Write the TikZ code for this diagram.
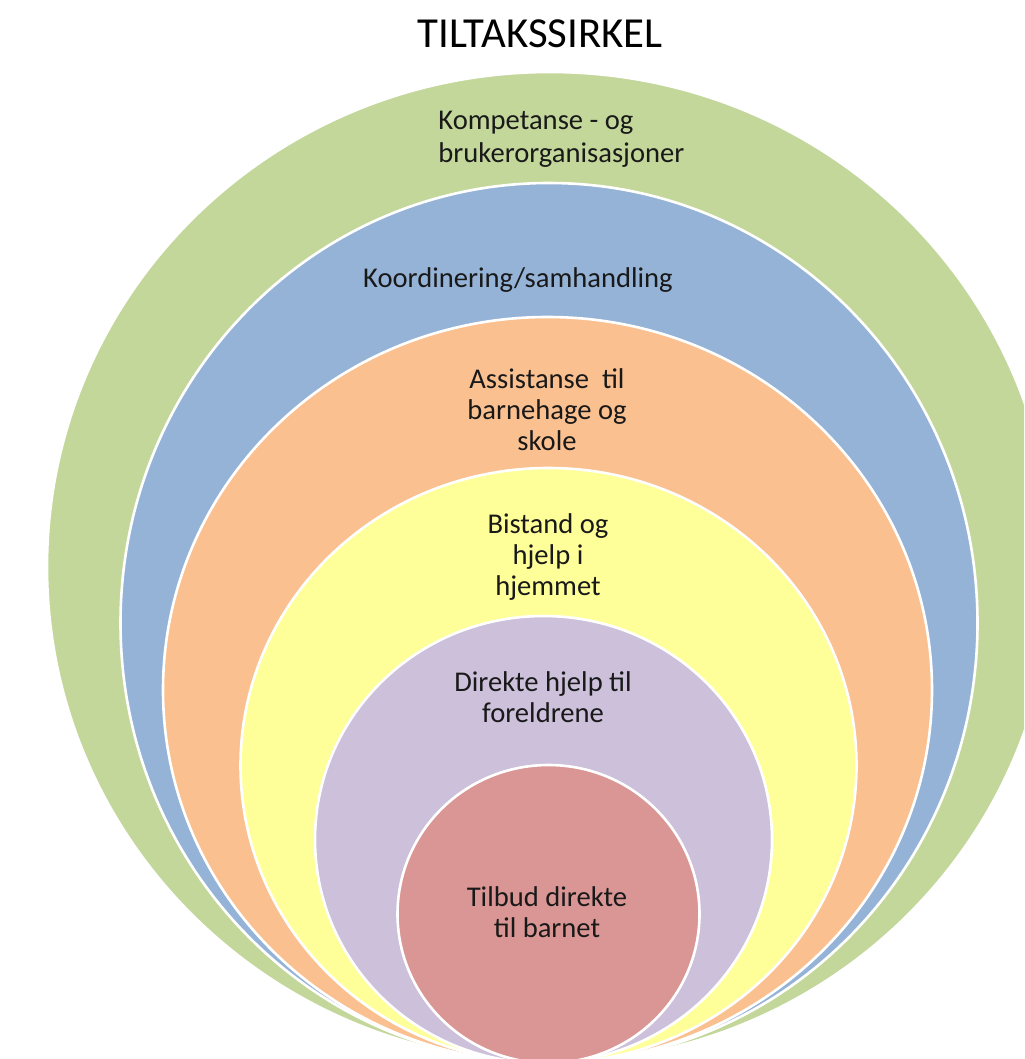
\documentclass[tikz,border=0pt]{standalone}
\usepackage{fontspec}
\setmainfont{Carlito}
\usetikzlibrary{shapes.geometric}
\definecolor{cgreen}{HTML}{C4D79B}
\definecolor{cblue}{HTML}{95B3D7}
\definecolor{corange}{HTML}{FAC090}
\definecolor{cyellow}{HTML}{FFFF99}
\definecolor{cpurple}{HTML}{CCC0DA}
\definecolor{cred}{HTML}{D99694}
\tikzset{
  ring/.style={ellipse, draw=white, line width=1.3pt, inner sep=0pt, outer sep=0pt},
  lbl/.style={font=\fontsize{14.3}{15.4}\selectfont, align=center, anchor=base, inner sep=0pt, text=black!90},
}
\begin{document}
\begin{tikzpicture}[x=0.5pt,y=-0.5pt]
\useasboundingbox (0,0) rectangle (1024,1059);
\begin{scope}
\clip (0,0) rectangle (1024,1059);
\node[ring, fill=cgreen, minimum width=503pt, minimum height=495pt] (green) at (550,567) {};
\node[ring, fill=cblue, minimum width=428.5pt, minimum height=440pt] (blue) at (549,623) {};
\node[ring, fill=corange, minimum width=384.5pt, minimum height=373pt] (orange) at (547.5,690) {};
\node[ring, fill=cyellow, minimum width=308pt, minimum height=297.5pt] (yellow) at (548.5,765.5) {};
\node[ring, fill=cpurple, minimum width=228.5pt, minimum height=223.5pt] (purple) at (543.5,839.5) {};
\node[ring, fill=cred, minimum width=151pt, minimum height=149pt] (red) at (548.5,914) {};
\end{scope}
\node[font=\fontsize{21.4}{25}\selectfont, anchor=base, inner sep=0pt] (title) at (540,48) {TILTAKSSIRKEL};
\node[lbl, font=\fontsize{14.3}{17}\selectfont, align=left, anchor=base west] (t1) at (438,163) {Kompetanse - og\\brukerorganisasjoner};
\node[lbl] (t2) at (518,287) {Koordinering/samhandling};
\node[lbl] (t3) at (547,450) {Assistanse\ \ til\\barnehage og\\skole};
\node[lbl] (t4) at (548,595) {Bistand og\\hjelp i\\hjemmet};
\node[lbl] (t5) at (543,722) {Direkte hjelp til\\foreldrene};
\node[lbl] (t6) at (547,937) {Tilbud direkte\\til barnet};
\end{tikzpicture}
\end{document}
